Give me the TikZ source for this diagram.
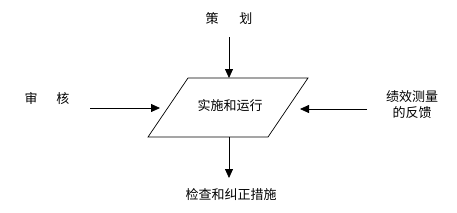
\documentclass[tikz,border=0pt]{standalone}
\usepackage{fontspec}
\newfontfamily\cjk{Noto Sans CJK SC}
\usetikzlibrary{arrows.meta}
\begin{document}
\begin{tikzpicture}[x=1pt,y=-1pt,
  lbl/.style={font=\cjk\fontsize{13}{16}\selectfont, inner sep=0pt, align=center},
  conn/.style={draw=black, line width=0.8pt, -{Triangle[length=9pt,width=8pt]}}]
\useasboundingbox (0,0) rectangle (457,212);
\coordinate (tl) at (188,78);
\coordinate (tr) at (308,78);
\coordinate (br) at (268,137);
\coordinate (bl) at (148,137);
\draw[line width=0.7pt] (tl) -- (tr) -- (br) -- (bl) -- cycle;
\node[lbl] (main) at (230,106) {实施和运行};
\node[lbl] (plan) at (229,19) {策\hspace{1.6em}划};
\node[lbl] (check) at (231,195) {检查和纠正措施};
\node[lbl] (audit) at (47,99) {审\hspace{1.45em}核};
\node[lbl] (perf) at (412,105) {绩效测量\\的反馈};
\coordinate (ptop) at (229,78);
\coordinate (pbot) at (229,137);
\coordinate (pleft) at (160,108);
\coordinate (pright) at (300,109);
\coordinate (tstart) at (229,37);
\coordinate (bend) at (229,178);
\coordinate (lstart) at (90,108);
\coordinate (rstart) at (367,109);
\draw[conn] (tstart) -- (ptop);
\draw[conn] (pbot) -- (bend);
\draw[conn] (lstart) -- (pleft);
\draw[conn] (rstart) -- (pright);
\end{tikzpicture}
\end{document}
